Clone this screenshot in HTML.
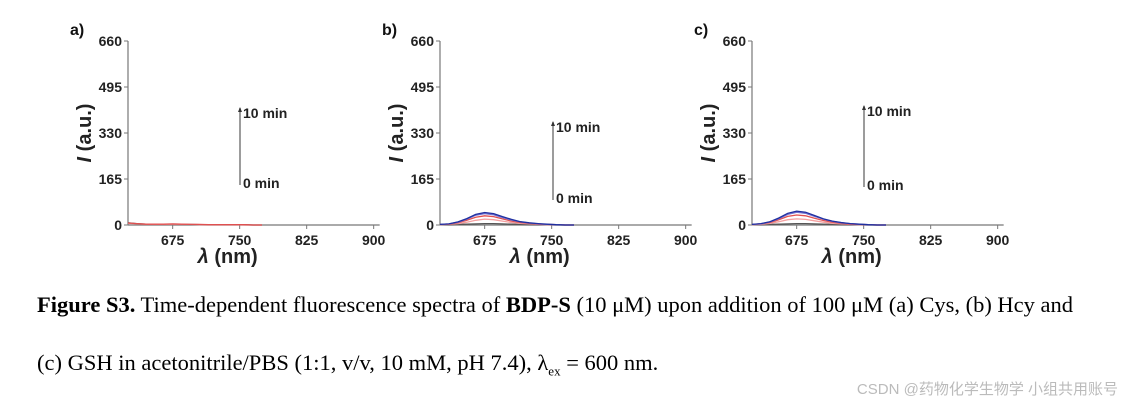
<!DOCTYPE html>
<html><head><meta charset="utf-8"><style>
body{margin:0;background:#fff;width:1126px;height:410px;overflow:hidden;position:relative;font-family:"Liberation Sans",sans-serif}
.cap{position:absolute;left:37px;font-family:"Liberation Serif",serif;font-size:22.5px;color:#000;white-space:nowrap}
.wm{position:absolute;right:8px;top:378px;font-size:15px;color:#bbb;font-family:"Liberation Sans","Noto Sans CJK SC",sans-serif}
</style></head><body>
<svg id="chart" width="1126" height="290" style="position:absolute;left:0;top:0"></svg>
<div class="cap" style="top:292px"><b>Figure S3.</b> Time-dependent fluorescence spectra of <b>BDP-S</b> (10 μM) upon addition of 100 μM (a) Cys, (b) Hcy and</div>
<div class="cap" style="top:350px">(c) GSH in acetonitrile/PBS (1:1, v/v, 10 mM, pH 7.4), λ<sub style="font-size:13px">ex</sub> = 600 nm.</div>
<div class="wm">CSDN @药物化学生物学 小组共用账号</div>
<script>
const wavelengths=[625,635,645,655,665,675,685,695,705,715,725,735,745,755,765,775];
const yTicks=[0,165,330,495,660];
const xTicks=[675,750,825,900];
const colors=["#555","#f4a0a0","#e05050","#7070d0","#2030a0","#333"];
const panelA=[[8,5,3,2,2,3,3,2,1,1,1,1,1,1,0,0],[6,4,3,2,2,3,3,2,1,1,1,1,1,0,0,0],[7,5,3,3,3,4,3,2,2,1,1,1,1,1,0,0]];
const panelB=[[1,1,2,3,4,5,5,4,3,2,1,1,1,0,0,0],[1,2,5,10,17,21,19,14,9,6,4,2,1,1,0,0],[2,3,8,17,28,33,30,22,14,9,6,3,2,1,0,0],[2,4,10,21,35,41,37,27,18,11,7,4,2,1,0,0],[2,4,11,23,38,45,41,30,20,12,8,5,3,1,0,0]];
const panelC=[[1,1,2,3,4,5,5,4,3,2,1,1,1,0,0,0],[1,2,6,12,19,22,20,15,10,6,4,2,1,1,0,0],[2,4,9,19,31,36,33,24,16,10,6,3,2,1,0,0],[2,4,11,23,38,46,42,31,21,13,8,5,3,1,0,0],[2,5,12,25,42,50,46,34,22,14,9,5,3,1,0,0]];
const panels=[{L:"a)",x0:128,data:panelA,arrowX:240,ay1:185,ay2:108},{L:"b)",x0:440,data:panelB,arrowX:553,ay1:200,ay2:122},{L:"c)",x0:752,data:panelC,arrowX:864,ay1:187,ay2:106}];
const svg=document.getElementById('chart');const NS="http://www.w3.org/2000/svg";
function mk(t,a,p){const e=document.createElementNS(NS,t);for(const k in a)e.setAttribute(k,a[k]);(p||svg).appendChild(e);return e;}
const Y0=225,Y1=41;
panels.forEach((P,i)=>{
 const g=mk('g',{});
 
 
 const X=w=>P.x0+(w-625)*(67/75);
 const Y=v=>Y0-(v/660)*(Y0-Y1);
 const xe=X(900)+6;
 mk('line',{x1:P.x0,y1:Y1,x2:P.x0,y2:Y0,stroke:'#777','stroke-width':1.2},g);
 mk('line',{x1:P.x0,y1:Y0,x2:xe,y2:Y0,stroke:'#777','stroke-width':1.2},g);
 yTicks.forEach(v=>{mk('line',{x1:P.x0-4,y1:Y(v),x2:P.x0,y2:Y(v),stroke:'#777'},g);
  const t=mk('text',{x:P.x0-6,y:Y(v)+5,'text-anchor':'end','font-size':14,'font-weight':'bold',fill:'#222'},g);t.textContent=v;});
 xTicks.forEach(v=>{mk('line',{x1:X(v),y1:Y0,x2:X(v),y2:Y0+4,stroke:'#777'},g);
  const t=mk('text',{x:X(v),y:Y0+20,'text-anchor':'middle','font-size':14,'font-weight':'bold',fill:'#222'},g);t.textContent=v;});
 const lab=mk('text',{x:P.x0-58,y:35,'font-size':16,'font-weight':'bold',fill:'#111'},g);lab.textContent=P.L;
 const xl=mk('text',{x:X(750)-12,y:263,'text-anchor':'middle','font-size':20,'font-weight':'bold',fill:'#222'},g);xl.innerHTML='<tspan font-style="italic">λ</tspan> (nm)';
 const yl=mk('text',{transform:`translate(${P.x0-37},${Y(330)}) rotate(-90)`,'text-anchor':'middle','font-size':20,'font-weight':'bold',fill:'#222'},g);yl.innerHTML='<tspan font-style="italic">I</tspan> (a.u.)';
 P.data.forEach((s,j)=>{const d=s.map((v,k)=>(k?'L':'M')+X(wavelengths[k]).toFixed(1)+','+Y(v).toFixed(1)).join(' ');
  const p=mk('path',{d:d,fill:'none',stroke:colors[j%colors.length],'stroke-width':1.3},g);
  
  });
 mk('line',{x1:P.arrowX,y1:P.ay1,x2:P.arrowX,y2:P.ay2,stroke:'#666','stroke-width':1.3},g);
 mk('path',{d:`M${P.arrowX-2},${P.ay2+4} L${P.arrowX},${P.ay2-1} L${P.arrowX+2},${P.ay2+4}Z`,fill:'#333'},g);
 const t1=mk('text',{x:P.arrowX+3,y:P.ay2+10,'font-size':14,'font-weight':'bold',fill:'#222'},g);t1.textContent='10 min';
 const t0=mk('text',{x:P.arrowX+3,y:P.ay1+3,'font-size':14,'font-weight':'bold',fill:'#222'},g);t0.textContent='0 min';
});
</script>
</body></html>
